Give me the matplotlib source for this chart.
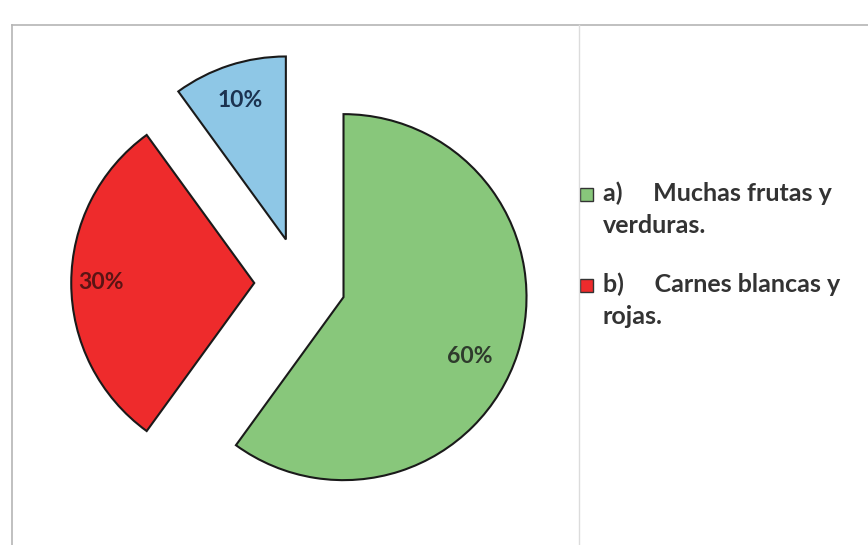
import matplotlib.pyplot as plt
from matplotlib.patches import Rectangle

# data
labels = ["a)     Muchas frutas y\nverduras.", "b)     Carnes blancas y\nrojas.", "c)"]
values = [60, 30, 10]
colors = ["#88c77b", "#ee2b2c", "#8ec7e6"]
pct_colors = ["#2e3b2c", "#5a1414", "#1c3350"]
explode = [0.25, 0.25, 0.25]

fig = plt.figure(figsize=(8.68, 5.45), dpi=100)
fig.patch.set_facecolor("white")

# frame lines of the scanned table cell
fig.add_artist(plt.Line2D([12 / 868, 1], [1 - 25 / 545] * 2, color="#b5b5b5", lw=1.2))
fig.add_artist(plt.Line2D([12 / 868] * 2, [0, 1 - 25 / 545], color="#b5b5b5", lw=1.2))
fig.add_artist(plt.Line2D([579 / 868] * 2, [0, 1 - 25 / 545], color="#dcdcdc", lw=1.0))

# pie axes: center at (300, 283) px, radius 183 px
R = 183
half = 250
ax = fig.add_axes([(300 - half) / 868, (545 - 283 - half) / 545, 2 * half / 868, 2 * half / 545])
wedges, texts, autotexts = ax.pie(values, colors=colors, explode=explode, startangle=90,
                                  counterclock=False, autopct="%d%%", pctdistance=0.8,
                                  wedgeprops=dict(edgecolor="#1a1a1a", linewidth=1.5),
                                  textprops=dict(fontsize=16.5, fontfamily="Lato", fontweight="bold"))
for t, c in zip(autotexts, pct_colors):
    t.set_color(c)
# nudge the 60% label a little down-left like in the original
x0, y0 = autotexts[0].get_position()
autotexts[0].set_position((x0 - 13 / R, y0 - 14 / R))
x1, y1 = autotexts[1].get_position()
autotexts[1].set_position((x1 - 7 / R, y1))
lim = half / R
ax.set_xlim(-lim, lim)
ax.set_ylim(-lim, lim)
ax.axis("off")

# legend (only first two entries are visible in the original)
ys = [194, 285]
for lab, col, y in zip(labels[:2], colors[:2], ys):
    fig.add_artist(Rectangle((580 / 868, 1 - (y + 7) / 545), 13 / 868, 13 / 545,
                             facecolor=col, edgecolor="#333333", lw=1.0))
    fig.text(603 / 868, 1 - (y - 13) / 545, lab, ha="left", va="top", fontsize=18,
             fontfamily="Lato", fontweight="bold", color="#333333", linespacing=1.5)

plt.savefig("out.png", dpi=100)
